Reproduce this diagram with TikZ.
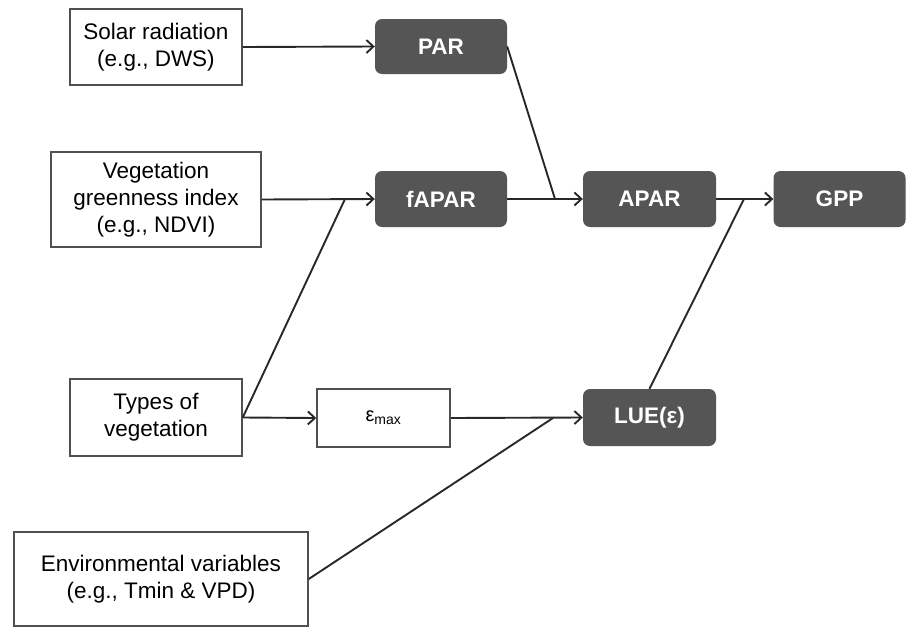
\documentclass[tikz,border=0pt]{standalone}
\usepackage{fontspec}
\setmainfont{Liberation Sans}
\usetikzlibrary{arrows.meta}
\definecolor{darkbox}{RGB}{85,85,85}
\definecolor{linecol}{RGB}{40,40,40}
\definecolor{boxline}{RGB}{80,80,80}
\begin{document}
\begin{tikzpicture}[x=1pt,y=-1pt,
  inbox/.style={draw=boxline, line width=1.5pt, fill=white, align=center, inner sep=0pt,
     font=\fontsize{22.5}{27}\selectfont},
  darknode/.style={fill=darkbox, rounded corners=7pt, text=white, align=center, inner sep=0pt,
     minimum width=132pt, minimum height=56pt, font=\fontsize{22.5}{26}\selectfont\bfseries},
  conn/.style={draw=linecol, line width=1.9pt},
  arr/.style={conn, -{Straight Barb[length=7pt,width=13pt,line width=1.9pt]}}
]
\useasboundingbox (0,0) rectangle (906,627);
% input boxes
\node[inbox, minimum width=172pt, minimum height=76pt] (solar) at (156,47) {Solar radiation\\(e.g., DWS)};
\node[inbox, minimum width=210pt, minimum height=95pt] (veg) at (156,199.5) {Vegetation\\greenness index\\(e.g., NDVI)};
\node[inbox, minimum width=172pt, minimum height=77pt] (types) at (156,417.5) {Types of\\vegetation};
\node[inbox, minimum width=294pt, minimum height=94pt] (env) at (161,579) {Environmental variables\\(e.g., Tmin \& VPD)};
\node[inbox, minimum width=133pt, minimum height=58pt, font=\fontsize{20}{22}\selectfont] (emax) at (383.5,418) {ε\textsubscript{max}};
% dark boxes
\node[darknode, minimum height=55pt] (par) at (441,46.5) {PAR};
\node[darknode] (fapar) at (441,199) {fAPAR};
\node[darknode, minimum width=133pt] (apar) at (649.5,199) {APAR};
\node[darknode] (gpp) at (839.5,199) {GPP};
\node[darknode, minimum width=133pt, minimum height=57pt] (lue) at (649.5,417.5) {LUE(ε)};
% junctions
\coordinate (j1) at (345,199);
\coordinate (j2) at (555,199);
\coordinate (j3) at (744,199);
\coordinate (j4) at (553,418);
% connectors
\draw[arr] (solar.east) -- (par.west);
\draw[arr] (veg.east) -- (fapar.west);
\draw[conn] (types.east) -- (j1);
\draw[arr] (fapar.east) -- (apar.west);
\draw[conn] (par.east) -- (j2);
\draw[arr] (apar.east) -- (gpp.west);
\draw[conn] (lue.north) -- (j3);
\draw[arr] (types.east) -- (emax.west);
\draw[arr] (emax.east) -- (lue.west);
\draw[conn] (env.east) -- (j4);
\end{tikzpicture}
\end{document}
